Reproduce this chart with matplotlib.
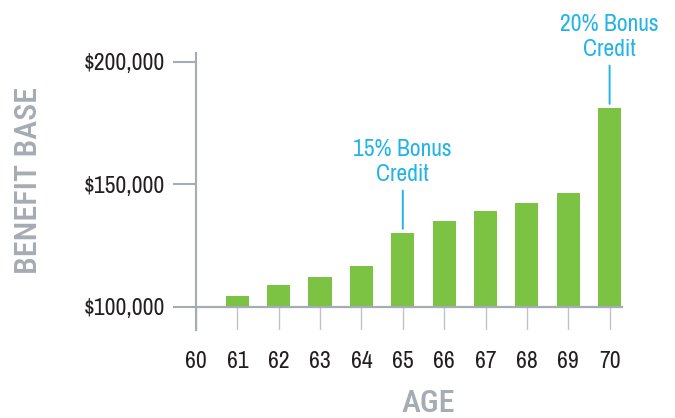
import matplotlib
matplotlib.use("Agg")
import matplotlib.pyplot as plt
from matplotlib import font_manager

ages = [61, 62, 63, 64, 65, 66, 67, 68, 69, 70]
benefit_base = [104500, 109000, 112100, 116600, 130100, 135000, 139100, 142300, 146400, 181100]
x_ticks = [60, 61, 62, 63, 64, 65, 66, 67, 68, 69, 70]
y_ticks = [100000, 150000, 200000]
y_tick_labels = ["$100,000", "$150,000", "$200,000"]
annot_ages = [65, 70]
annot_texts = ["15% Bonus\nCredit", "20% Bonus\nCredit"]
base_value = 100000

names = {f.name for f in font_manager.fontManager.ttflist}
def pick(cands):
    for c in cands:
        if c in names:
            return c
    return "DejaVu Sans"
title_font = pick(["Roboto Condensed", "Barlow Condensed", "Archivo Narrow"])
body_font = pick(["Archivo Narrow", "Barlow Semi Condensed", "Liberation Sans"])
plt.rcParams['font.family'] = [body_font, 'DejaVu Sans']

GREEN = "#7cc243"
BLUE = "#22b4e8"
GREY = "#a6acb4"
TICKGREY = "#bfc3c8"
TEXT = "#231f20"
BODY = 17

fig = plt.figure(figsize=(6.75, 4.18), dpi=100)
ax = fig.add_axes([196/675, 1-330/418, 426/675, 277/418])
ax.set_xlim(60, 70.3)
ylo, yhi = 90490, 203550
ax.set_ylim(ylo, yhi)

heights = [v - base_value for v in benefit_base]
ax.bar(ages, heights, bottom=base_value, width=0.56, color=GREEN, zorder=3)

ax.axhline(base_value, color=GREY, lw=1.6, zorder=4, clip_on=False)
ax.vlines(x_ticks, ylo, base_value, colors=TICKGREY, lw=1.0, zorder=2)

for s in ["top", "right", "bottom"]:
    ax.spines[s].set_visible(False)
ax.spines["left"].set_color(GREY)
ax.spines["left"].set_linewidth(1.5)

ax.set_yticks(y_ticks)
ax.set_yticklabels(y_tick_labels)
ax.tick_params(axis="y", length=16.5, width=1.5, color=GREY, pad=6,
               labelsize=BODY, labelcolor=TEXT)
ax.set_xticks(x_ticks)
ax.set_xticklabels([str(a) for a in x_ticks])
ax.tick_params(axis="x", length=0, pad=15, labelsize=BODY, labelcolor=TEXT)

for a, t in zip(annot_ages, annot_texts):
    v = benefit_base[ages.index(a)]
    ax.annotate(t, xy=(a, v), xytext=(0, 34.5), textcoords="offset points",
                ha="center", va="bottom", color=BLUE, fontsize=BODY,
                linespacing=1.23,
                arrowprops=dict(arrowstyle="-", color=BLUE, lw=1.4,
                                shrinkA=2, shrinkB=3))

fig.text(29/675, 1-181/418, "BENEFIT BASE", rotation=90, ha="center", va="center",
         fontsize=23, color=GREY, family=[title_font, 'DejaVu Sans'], weight="medium")
fig.text(428/675, 1-404/418, "AGE", ha="center", va="center",
         fontsize=23, color=GREY, family=[title_font, 'DejaVu Sans'], weight="medium")

fig.savefig("out.png", dpi=100)
